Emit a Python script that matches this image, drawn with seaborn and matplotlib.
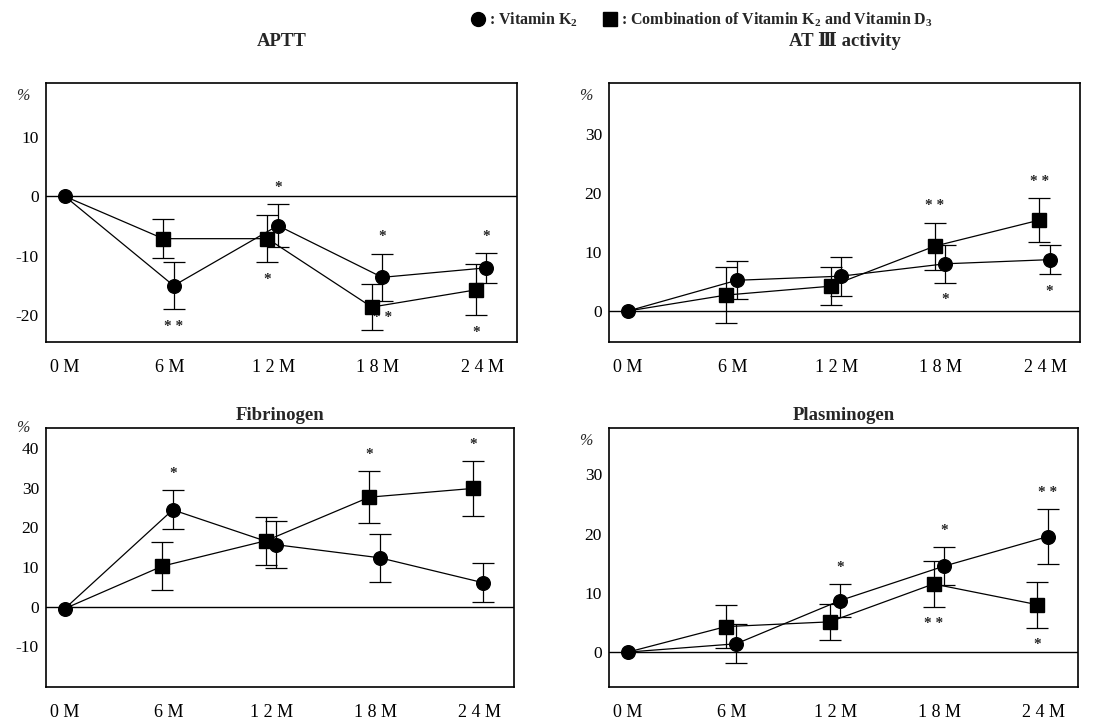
import pandas as pd
import matplotlib
matplotlib.use("Agg")
import matplotlib.pyplot as plt
from matplotlib.lines import Line2D
import seaborn as sns

# -------------------------
# DATA (% change from baseline)
# -------------------------
months = [0, 6, 12, 18, 24]
month_labels = ["0 M", "6 M", "1 2 M", "1 8 M", "2 4 M"]

aptt_k2 = [0, -15.0, -4.9, -13.6, -12.0]
aptt_k2_err = [0, 4.0, 3.6, 4.0, 2.5]
aptt_k2d3 = [0, -7.1, -7.1, -18.6, -15.7]
aptt_k2d3_err = [0, 3.3, 4.0, 3.9, 4.3]
aptt_stars = [("k2", 6, "* *", "below"), ("k2", 12, "*", "above"),
              ("k2d3", 12, "*", "below"), ("k2", 18, "*", "above"),
              ("k2", 18, "* *", "below"), ("k2", 24, "*", "above"),
              ("k2d3", 24, "*", "below")]

at3_k2 = [0, 5.2, 5.9, 8.0, 8.7]
at3_k2_err = [0, 3.2, 3.3, 3.2, 2.5]
at3_k2d3 = [0, 2.7, 4.2, 11.0, 15.4]
at3_k2d3_err = [0, 4.8, 3.2, 4.0, 3.7]
at3_stars = [("k2d3", 18, "* *", "above"), ("k2", 18, "*", "below"),
             ("k2d3", 24, "* *", "above"), ("k2", 24, "*", "below")]

fib_k2 = [-0.5, 24.4, 15.6, 12.3, 6.0]
fib_k2_err = [0, 4.9, 6.0, 6.0, 4.9]
fib_k2d3 = [-0.5, 10.2, 16.6, 27.6, 29.8]
fib_k2d3_err = [0, 6.0, 6.0, 6.6, 7.0]
fib_stars = [("k2", 6, "*", "above"), ("k2d3", 18, "*", "above"),
             ("k2d3", 24, "*", "above")]

plg_k2 = [0, 1.4, 8.7, 14.5, 19.5]
plg_k2_err = [0, 3.3, 2.8, 3.2, 4.7]
plg_k2d3 = [0, 4.3, 5.1, 11.5, 8.0]
plg_k2d3_err = [0, 3.6, 3.0, 3.9, 3.9]
plg_stars = [("k2", 12, "*", "above"), ("k2", 18, "*", "above"),
             ("k2d3", 18, "* *", "below"), ("k2", 24, "* *", "above"),
             ("k2d3", 24, "*", "below")]

# -------------------------
# STYLE
# -------------------------
sns.set_theme(style="white")
plt.rcParams["font.family"] = ["Liberation Serif", "DejaVu Serif"]
plt.rcParams["axes.unicode_minus"] = False
plt.rcParams["mathtext.fontset"] = "custom"
plt.rcParams["mathtext.rm"] = "Liberation Serif"
plt.rcParams["mathtext.bf"] = "Liberation Serif:bold"

DODGE = {"k2": 0.25, "k2d3": -0.35}
MARK = {"k2": "o", "k2d3": "s"}

fig = plt.figure(figsize=(11.2, 7.25), dpi=100)

panels = [
    ("APTT", aptt_k2, aptt_k2_err, aptt_k2d3, aptt_k2d3_err, aptt_stars,
     (-24.5, 19), [-20, -10, 0, 10], [0.041, 0.528, 0.4205, 0.357], 27, 0.95),
    ("AT Ⅲ activity", at3_k2, at3_k2_err, at3_k2d3, at3_k2d3_err, at3_stars,
     (-5.3, 38.6), [0, 10, 20, 30], [0.5438, 0.528, 0.4205, 0.357], 27, 0.95),
    ("Fibrinogen", fib_k2, fib_k2_err, fib_k2d3, fib_k2d3_err, fib_stars,
     (-20.3, 45), [-10, 0, 10, 20, 30, 40], [0.041, 0.0524, 0.4175, 0.357], 6, 1.0),
    ("Plasminogen", plg_k2, plg_k2_err, plg_k2d3, plg_k2d3_err, plg_stars,
     (-5.9, 37.8), [0, 10, 20, 30], [0.5438, 0.0524, 0.4187, 0.357], 6, 0.95),
]

for title, k2, k2e, kd, kde, stars, ylim, yticks, rect, tpad, pct_y in panels:
    ax = fig.add_axes(rect)
    series = {"k2": (k2, k2e), "k2d3": (kd, kde)}

    rows = []
    for g, (vals, errs) in series.items():
        for i, m in enumerate(months):
            x = m if i == 0 else m + DODGE[g]
            rows.append({"group": g, "x": x, "value": vals[i], "err": errs[i]})
    df = pd.DataFrame(rows)

    ax.axhline(0, color="black", lw=1.0, zorder=1)
    sns.lineplot(data=df, x="x", y="value", hue="group",
                 palette={"k2": "black", "k2d3": "black"},
                 estimator=None, lw=0.9, legend=False, ax=ax, zorder=2)

    for g in ["k2d3", "k2"]:
        sub = df[df["group"] == g]
        later = sub.iloc[1:]
        ax.errorbar(later["x"], later["value"], yerr=later["err"], fmt="none",
                    ecolor="black", elinewidth=0.9, capsize=8, capthick=0.9,
                    zorder=3)
        pts = sub if g == "k2" else later
        ax.plot(pts["x"], pts["value"], ls="none", marker=MARK[g],
                ms=9.8, color="black", zorder=4)

    for g, m, txt, side in stars:
        sub = df[(df["group"] == g) & (df["x"] == m + DODGE[g])].iloc[0]
        if side == "above":
            y, off = sub["value"] + sub["err"], 12
        else:
            y, off = sub["value"] - sub["err"], -12
        ax.annotate(txt, (sub["x"], y), xytext=(0, off),
                    textcoords="offset points", ha="center", va="center",
                    fontsize=11, fontweight="bold")

    ax.set_xlim(-1.1, 26)
    ax.set_ylim(*ylim)
    ax.set_xticks(months)
    ax.set_xticklabels(month_labels)
    ax.set_yticks(yticks)
    ax.tick_params(axis="both", length=0, colors="black")
    ax.tick_params(axis="x", pad=12, labelsize=13)
    ax.tick_params(axis="y", pad=5, labelsize=12.5)
    ax.set_xlabel("")
    ax.set_ylabel("")
    for s in ax.spines.values():
        s.set_visible(True)
        s.set_color("black")
        s.set_linewidth(1.2)
    ax.text(-0.035, pct_y, "%", transform=ax.transAxes, ha="right",
            va="center", fontsize=11.5, style="italic")
    ax.set_title(title, fontsize=13.5, fontweight="bold", pad=tpad)

handles = [Line2D([], [], ls="none", marker="o", ms=10, color="black"),
           Line2D([], [], ls="none", marker="s", ms=10, color="black")]
labels = [r": Vitamin K$_\mathbf{2}$",
          r": Combination of Vitamin K$_\mathbf{2}$ and Vitamin D$_\mathbf{3}$"]
fig.legend(handles, labels, loc="upper left", bbox_to_anchor=(0.408, 1.005),
           ncol=2, frameon=False, handlelength=0.8, handletextpad=0.3,
           columnspacing=1.6, prop={"weight": "bold", "size": 11.5})

fig.savefig("out.png", dpi=100)
